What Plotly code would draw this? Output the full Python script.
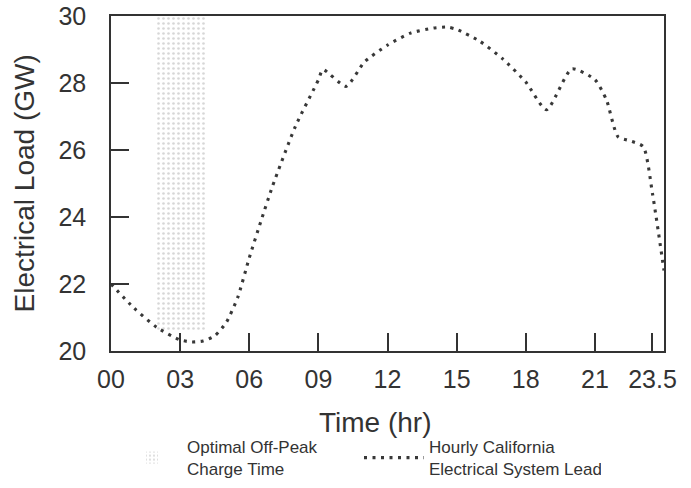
import plotly.graph_objects as go

# Hourly California electrical system load (GW)
hours = [0, 1, 2, 3, 3.5, 4, 4.5, 5, 5.5, 6, 6.5, 7, 8, 9, 9.2, 10.2, 11, 12,
         13, 14, 14.6, 15, 16, 17, 18, 18.9, 20, 21, 21.5, 22, 22.5, 23.1, 23.5, 24]
load_gw = [22.0, 21.28, 20.7, 20.33, 20.27, 20.3, 20.45, 20.85, 21.6, 22.78, 23.86, 24.9,
           26.7, 28.09, 28.4, 27.9, 28.63, 29.13, 29.49, 29.64, 29.67, 29.6, 29.25, 28.72,
           28.03, 27.2, 28.42, 28.1, 27.5, 26.4, 26.28, 26.1, 24.7, 22.4]

# Optimal off-peak charge window (hours) and its load extent (GW)
charge_start = 2.0
charge_end = 4.1
charge_low = 20.6
charge_high = 30.0

x_tick_vals = [0, 3, 6, 9, 12, 15, 18, 21, 23.5]
x_tick_text = ["00", "03", "06", "09", "12", "15", "18", "21", "23.5"]
y_tick_vals = [20, 22, 24, 26, 28, 30]

x_title = "Time (hr)"
y_title = "Electrical Load (GW)"

FONT = "Liberation Sans, Arial, sans-serif"
INK = "#333333"

fig = go.Figure()

fig.add_trace(go.Bar(
    x=[(charge_start + charge_end) / 2],
    y=[charge_high - charge_low],
    base=[charge_low],
    width=[charge_end - charge_start],
    name="Optimal Off-Peak<br>Charge Time",
    marker=dict(
        color="rgba(0,0,0,0)",
        line=dict(width=0),
        pattern=dict(shape=".", fgcolor="#b0b0b0", bgcolor="rgba(255,255,255,0)",
                     size=5, solidity=0.22, fillmode="overlay"),
    ),
    hoverinfo="skip",
))

fig.add_trace(go.Scatter(
    x=hours,
    y=load_gw,
    mode="lines",
    name="Hourly California<br>Electrical System Lead",
    line=dict(color="#383838", width=3.1, dash="3px,5.5px", shape="spline", smoothing=0.6),
))

axis_common = dict(
    showline=True, mirror=True, linecolor=INK, linewidth=1.5,
    ticks="inside", ticklen=18, tickwidth=1.5, tickcolor=INK,
    showgrid=False, zeroline=False, automargin=False,
    tickfont=dict(family=FONT, size=25, color=INK),
)

fig.update_layout(
    width=691, height=488,
    margin=dict(l=111, r=27, t=16, b=137, autoexpand=False),
    paper_bgcolor="white", plot_bgcolor="white",
    font=dict(family=FONT, color=INK),
    xaxis=dict(
        range=[0, 24], tickvals=x_tick_vals, ticktext=x_tick_text,
        ticklabelstandoff=5,
        **axis_common,
    ),
    yaxis=dict(
        range=[20, 30], tickvals=y_tick_vals,
        ticklabelstandoff=18,
        **axis_common,
    ),
    annotations=[
        dict(text=x_title, xref="paper", yref="paper", x=0.5, y=0,
             xanchor="center", yanchor="middle", xshift=-12, yshift=-71,
             showarrow=False, font=dict(family=FONT, size=28, color=INK)),
        dict(text=y_title, xref="paper", yref="paper", x=0, y=0.5,
             xanchor="center", yanchor="middle", xshift=-87, textangle=-90,
             showarrow=False, font=dict(family=FONT, size=28, color=INK)),
    ],
    showlegend=True,
    legend=dict(
        orientation="h",
        xref="container", yref="container",
        x=117 / 691, y=(488 - 429) / 488, xanchor="left", yanchor="top",
        font=dict(family=FONT, size=17, color=INK),
        itemwidth=60,
        entrywidth=167,
        bgcolor="rgba(0,0,0,0)",
    ),
)

fig.write_html("out.html", config={"displayModeBar": False},
               post_script="document.body.style.margin='0';")
